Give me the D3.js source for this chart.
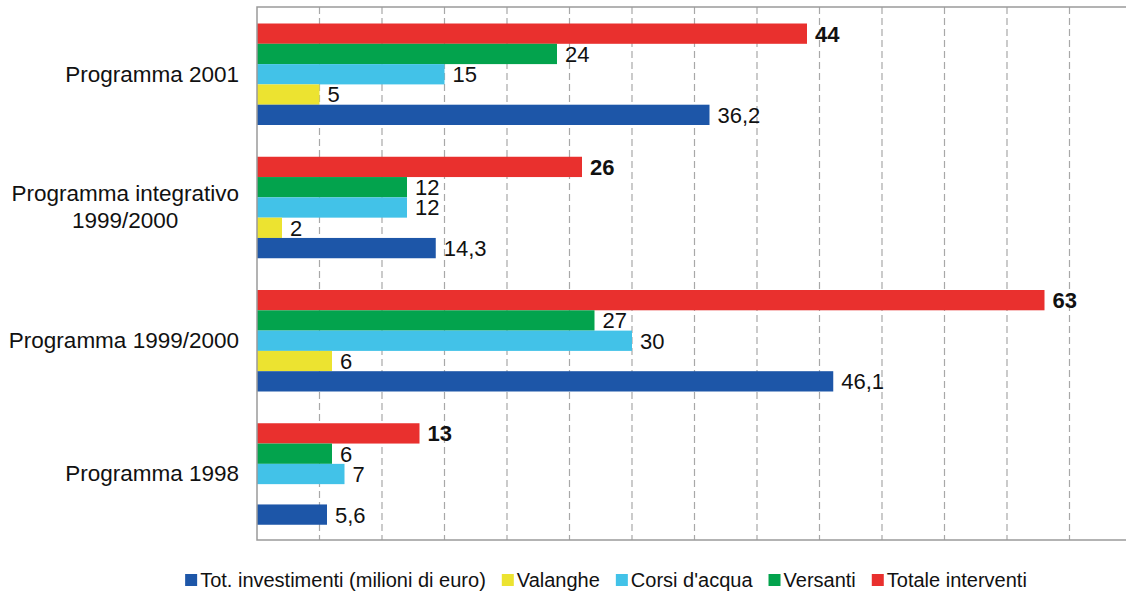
<!DOCTYPE html>
<html>
<head>
<meta charset="utf-8">
<script src="https://cdn.jsdelivr.net/npm/d3@7"></script>
<style>
  body { margin: 0; background: #fff; }
  text { font-family: "Liberation Sans", Arial, sans-serif; }
</style>
</head>
<body>
<svg width="1126" height="594"></svg>
<script>
// groups, top to bottom
let categories = ["Programma 2001", "Programma integrativo\n1999/2000", "Programma 1999/2000", "Programma 1998"]
// series, listed top to bottom inside each group
let series = ["Totale interventi", "Versanti", "Corsi d'acqua", "Valanghe", "Tot. investimenti (milioni di euro)"]
let totale = [44, 26, 63, 13]
let versanti = [24, 12, 27, 6]
let corsi = [15, 12, 30, 7]
let valanghe = [5, 2, 6, null]
let investimenti = [36.2, 14.3, 46.1, 5.6]
let xTicks = d3.range(0, 75, 5)
let legendOrder = ["Tot. investimenti (milioni di euro)", "Valanghe", "Corsi d'acqua", "Versanti", "Totale interventi"]

let values = [totale, versanti, corsi, valanghe, investimenti]

function fill_for(s) {
    switch(s) {
        case "Totale interventi": return "#e9302e"
        case "Versanti": return "#03a34d"
        case "Corsi d'acqua": return "#42c2e8"
        case "Valanghe": return "#ece330"
        default: return "#1d56a8"
    }
}

const svg = d3.select("svg")
const plotLeft = 257, plotTop = 7, plotBottom = 540

let x = d3.scaleLinear().domain([0, 70]).range([plotLeft, plotLeft + 875])
let y = d3.scaleBand().domain(categories).range([plotTop, plotBottom])
let yIn = d3.scaleBand().domain(series).range([16.5, 118])

// dashed grid
svg.append("g").selectAll("line")
   .data(xTicks.filter(t => t > 0))
   .join("line")
   .attr("x1", d => x(d)).attr("x2", d => x(d))
   .attr("y1", plotTop).attr("y2", plotBottom)
   .attr("stroke", "#a8a8a8").attr("stroke-width", 1.2)
   .attr("stroke-dasharray", "7,4")

// bars
let rows = []
categories.forEach((c, i) => series.forEach((s, j) => {
    if (values[j][i] != null) rows.push({cat: c, s: s, v: values[j][i]})
}))

svg.append("g").selectAll("rect")
   .data(rows)
   .join("rect")
   .attr("x", x(0))
   .attr("y", d => y(d.cat) + yIn(d.s))
   .attr("width", d => x(d.v) - x(0))
   .attr("height", yIn.bandwidth())
   .attr("fill", d => fill_for(d.s))

// value labels
svg.append("g").selectAll("text")
   .data(rows)
   .join("text")
   .attr("x", d => x(d.v) + 8)
   .attr("y", d => y(d.cat) + yIn(d.s) + yIn.bandwidth() / 2)
   .attr("dy", "0.36em")
   .attr("font-size", 22)
   .attr("font-weight", d => d.s == "Totale interventi" ? "bold" : "normal")
   .attr("fill", "#111")
   .text(d => String(d.v).replace(".", ","))

// frame
svg.append("path")
   .attr("d", `M${x(70)},${plotTop}H${plotLeft}V${plotBottom}H${x(70)}`)
   .attr("fill", "none").attr("stroke", "#9a9a9a").attr("stroke-width", 1.5)

// category labels
categories.forEach(c => {
    let lines = c.split("\n")
    let cy = y(c) + y.bandwidth() / 2
    let g = svg.append("g")
    let t0 = g.append("text")
      .attr("x", 239).attr("text-anchor", "end")
      .attr("font-size", 22.5).attr("fill", "#111")
      .attr("y", cy - (lines.length - 1) * 13.5).attr("dy", "0.36em")
      .text(lines[0])
    if (lines.length > 1) {
        let w = t0.node().getComputedTextLength()
        g.append("text")
         .attr("x", 239 - w / 2).attr("text-anchor", "middle")
         .attr("font-size", 22.5).attr("fill", "#111")
         .attr("y", cy + 13.5).attr("dy", "0.36em")
         .text(lines[1])
    }
})

// legend
let lg = svg.append("g")
let lx = 0
legendOrder.forEach(s => {
    let item = lg.append("g").attr("transform", `translate(${lx},0)`)
    item.append("rect").attr("x", 0).attr("y", -6).attr("width", 12).attr("height", 12)
        .attr("fill", fill_for(s))
    let t = item.append("text").attr("x", 15).attr("dy", "0.36em")
        .attr("font-size", 20).attr("fill", "#111").text(s)
    lx += 15 + t.node().getComputedTextLength() + 16
})
lx -= 16
lg.attr("transform", `translate(${606 - lx / 2},580)`)
</script>
</body>
</html>
